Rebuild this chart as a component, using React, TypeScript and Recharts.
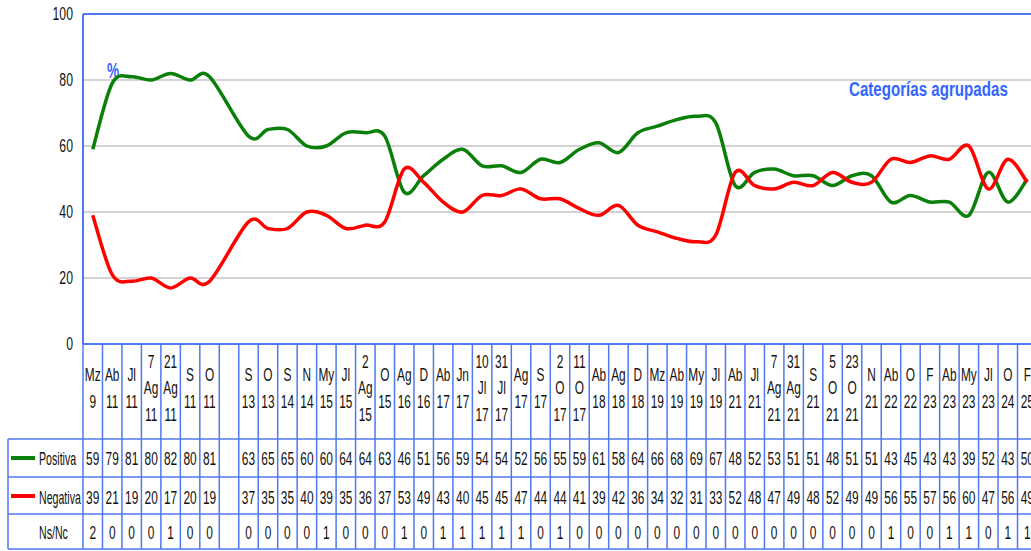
import React from "react";
import {
  LineChart,
  Line,
  XAxis,
  YAxis,
  CartesianGrid,
  ReferenceLine,
  Customized,
} from "recharts";

// categorias (fechas de las oleadas), con espacios donde se parte la etiqueta
const categories = [
  "Mz 9", "Ab 11", "Jl 11", "7 Ag 11", "21 Ag 11", "S 11", "O 11", "",
  "S 13", "O 13", "S 14", "N 14", "My 15", "Jl 15", "2 Ag 15", "O 15",
  "Ag 16", "D 16", "Ab 17", "Jn 17", "10 Jl 17", "31 Jl 17", "Ag 17", "S 17",
  "2 O 17", "11 O 17", "Ab 18", "Ag 18", "D 18", "Mz 19", "Ab 19", "My 19",
  "Jl 19", "Ab 21", "Jl 21", "7 Ag 21", "31 Ag 21", "S 21", "5 O 21", "23 O 21",
  "N 21", "Ab 22", "O 22", "F 23", "Ab 23", "My 23", "Jl 23", "O 24", "F 25",
];

const positiva = [
  59, 79, 81, 80, 82, 80, 81, null,
  63, 65, 65, 60, 60, 64, 64, 63,
  46, 51, 56, 59, 54, 54, 52, 56,
  55, 59, 61, 58, 64, 66, 68, 69,
  67, 48, 52, 53, 51, 51, 48, 51,
  51, 43, 45, 43, 43, 39, 52, 43, 50,
];

const negativa = [
  39, 21, 19, 20, 17, 20, 19, null,
  37, 35, 35, 40, 39, 35, 36, 37,
  53, 49, 43, 40, 45, 45, 47, 44,
  44, 41, 39, 42, 36, 34, 32, 31,
  33, 52, 48, 47, 49, 48, 52, 49,
  49, 56, 55, 57, 56, 60, 47, 56, 49,
];

const nsnc = [
  2, 0, 0, 0, 1, 0, 0, null,
  0, 0, 0, 0, 1, 0, 0, 0,
  1, 0, 1, 1, 1, 1, 1, 0,
  1, 0, 0, 0, 0, 0, 0, 0,
  0, 0, 0, 0, 0, 0, 0, 0,
  0, 1, 0, 0, 1, 1, 0, 1, 1,
];

const yTicks = [0, 20, 40, 60, 80, 100];

const data = categories.map((name, i) => ({
  name,
  positiva: positiva[i],
  negativa: negativa[i],
  nsnc: nsnc[i],
}));

const W = 1040;
const H = 551;
const LEFT = 83;
const RIGHT = 3;
const BAND = (W - LEFT - RIGHT) / categories.length;
const BLUE = "#4f78f2";
const TEXT_BLUE = "#3366ff";
const GREEN = "#0a800a";
const RED = "#ff0000";
const FONT = "'Liberation Sans', Arial, sans-serif";

// texto estrecho (la fuente original esta muy comprimida)
function Narrow({ x, y, sx = 0.66, size = 18, anchor = "middle", weight = "normal", fill = "#111", children }: any) {
  return (
    <text
      x={x / sx}
      y={y}
      transform={`scale(${sx},1)`}
      fontSize={size}
      fontFamily={FONT}
      fontWeight={weight}
      textAnchor={anchor}
      fill={fill}
    >
      {children}
    </text>
  );
}

// suavizado tipo Excel (Catmull-Rom)
const excelCurve = (context: any) => {
  let pts: number[][] = [];
  return {
    areaStart() {},
    areaEnd() {},
    lineStart() {
      pts = [];
    },
    point(x: number, y: number) {
      pts.push([+x, +y]);
    },
    lineEnd() {
      if (!pts.length) return;
      context.moveTo(pts[0][0], pts[0][1]);
      for (let i = 0; i < pts.length - 1; i++) {
        const p0 = pts[i - 1] || pts[i];
        const p1 = pts[i];
        const p2 = pts[i + 1];
        const p3 = pts[i + 2] || p2;
        context.bezierCurveTo(
          p1[0] + (p2[0] - p0[0]) / 6,
          p1[1] + (p2[1] - p0[1]) / 6,
          p2[0] - (p3[0] - p1[0]) / 6,
          p2[1] - (p3[1] - p1[1]) / 6,
          p2[0],
          p2[1]
        );
      }
    },
  };
};

function YTick({ x, y, payload }: any) {
  return (
    <Narrow x={x} y={y + 6} anchor="end" sx={0.7} size={17.5}>
      {payload.value}
    </Narrow>
  );
}

// cada tick del eje X dibuja su columna de la tabla de datos
function TableTick({ x, y, payload }: any) {
  const i = payload.index;
  const lines = categories[i] ? categories[i].split(" ") : [];
  const step = 26.5;
  const start = y + 44.5 - ((lines.length - 1) * step) / 2;
  const left = x - BAND / 2;
  const vals = [positiva[i], negativa[i], nsnc[i]];
  const rowY = [121, 160, 195];
  return (
    <g>
      <line x1={left} x2={left} y1={y} y2={y + 205} stroke={BLUE} strokeWidth={1.5} />
      {lines.map((t, k) => (
        <Narrow key={k} x={x} y={start + k * step + 6}>
          {t}
        </Narrow>
      ))}
      {vals.map((v, k) =>
        v === null ? null : (
          <Narrow key={"v" + k} x={x} y={y + rowY[k]}>
            {v}
          </Narrow>
        )
      )}
    </g>
  );
}

function TableFrame() {
  const rows = [439, 477, 514, 549];
  return (
    <g>
      {rows.map((ry) => (
        <line key={ry} x1={8} x2={W} y1={ry} y2={ry} stroke={BLUE} strokeWidth={1.5} />
      ))}
      <line x1={8} x2={8} y1={439} y2={549} stroke={BLUE} strokeWidth={1.5} />
      <line x1={11} x2={35} y1={458} y2={458} stroke={GREEN} strokeWidth={4} />
      <Narrow x={39} y={465} anchor="start" sx={0.59}>Positiva</Narrow>
      <line x1={11} x2={35} y1={496} y2={496} stroke={RED} strokeWidth={4} />
      <Narrow x={39} y={504} anchor="start" sx={0.59}>Negativa</Narrow>
      <Narrow x={39} y={539} anchor="start" sx={0.59}>Ns/Nc</Narrow>
      <Narrow x={113} y={78} sx={0.62} size={22} weight="bold" fill={TEXT_BLUE}>%</Narrow>
      <Narrow x={849} y={96} anchor="start" sx={0.72} size={21} weight="bold" fill={TEXT_BLUE}>
        Categorías agrupadas
      </Narrow>
    </g>
  );
}

export default function App() {
  return (
    <div
      style={{
        position: "absolute",
        left: 0,
        top: 0,
        width: 1031,
        height: 551,
        overflow: "hidden",
        background: "#fff",
      }}
    >
      <LineChart width={W} height={H} data={data} margin={{ top: 14, right: RIGHT, left: 0, bottom: 0 }}>
        <CartesianGrid vertical={false} stroke="#c4c4c4" strokeWidth={1.5} />
        <XAxis
          dataKey="name"
          scale="band"
          interval={0}
          height={207}
          tickSize={0}
          tickMargin={0}
          tickLine={false}
          axisLine={{ stroke: BLUE, strokeWidth: 2 }}
          tick={<TableTick />}
        />
        <YAxis
          domain={[0, 100]}
          ticks={yTicks}
          width={LEFT}
          tickSize={0}
          tickMargin={10}
          tickLine={false}
          axisLine={{ stroke: BLUE, strokeWidth: 2 }}
          tick={<YTick />}
        />
        <ReferenceLine y={100} stroke={BLUE} strokeWidth={2} />
        <Line
          dataKey="positiva"
          stroke={GREEN}
          strokeWidth={3.5}
          type={excelCurve as any}
          dot={false}
          activeDot={false}
          connectNulls
          isAnimationActive={false}
        />
        <Line
          dataKey="negativa"
          stroke={RED}
          strokeWidth={3.5}
          type={excelCurve as any}
          dot={false}
          activeDot={false}
          connectNulls
          isAnimationActive={false}
        />
        <Customized component={TableFrame} />
      </LineChart>
    </div>
  );
}
